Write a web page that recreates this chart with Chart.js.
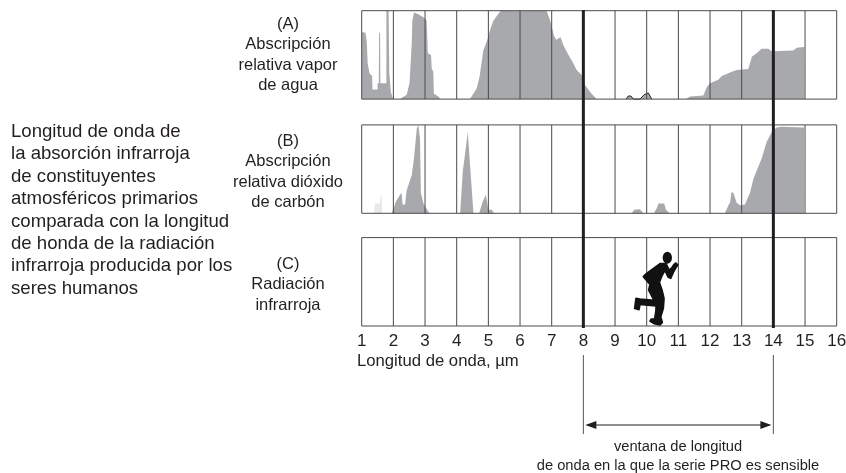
<!DOCTYPE html>
<html lang="es">
<head>
<meta charset="UTF-8">
<title>Longitud de onda</title>
<script src="https://cdn.jsdelivr.net/npm/chart.js"></script>
<style>
    html, body { margin: 0; padding: 0; background: #fff; }
    #wrap { position: relative; width: 846px; height: 473px; overflow: hidden; font-family: "Liberation Sans", Arial, sans-serif; color: #231f20; }
    canvas { position: absolute; left: 0; top: 0; }
    .txt { position: absolute; white-space: pre; }
    .panel { width: 160px; text-align: center; font-size: 16.5px; line-height: 20.4px; left: 208px; }
    #intro { left: 11px; top: 120px; font-size: 18.6px; line-height: 22.4px; }
    #xtitle { left: 357px; top: 351px; font-size: 16.7px; line-height: 19px; }
    #note { left: 528px; width: 300px; top: 437px; text-align: center; font-size: 14.7px; line-height: 19px; }
    #runner { position: absolute; left: 630px; top: 245px; }
</style>
</head>
<body>
<div id="wrap">
    <canvas id="chart" width="846" height="473"></canvas>
    <div class="txt panel" style="top:13px">(A)
Abscripción
relativa vapor
de agua</div>
    <div class="txt panel" style="top:130px">(B)
Abscripción
relativa dióxido
de carbón</div>
    <div class="txt panel" style="top:253px">(C)
Radiación
infrarroja</div>
    <div class="txt" id="intro">Longitud de onda de
la absorción infrarroja
de constituyentes
atmosféricos primarios
comparada con la longitud
de honda de la radiación
infrarroja producida por los
seres humanos</div>
    <div class="txt" id="xtitle">Longitud de onda, µm</div>
    <div class="txt" id="note">ventana de longitud
de onda en la que la serie PRO es sensible</div>
    <svg id="runner" width="55" height="85" viewBox="0 0 165 255">
        <ellipse cx="112" cy="38" rx="14" ry="18" fill="#111"/>
        <path fill="#111" stroke="#111" stroke-width="5" stroke-linejoin="round" d="M108 56 L118 76 L127 66 L132 58 L138 54 L143 60 L138 68 L130 82 L122 100 L114 96 L105 76 L96 92 L88 112 L96 135 L102 160 L100 190 L92 216 L97 232 L90 240 L72 236 L60 228 L64 222 L74 222 L78 195 L78 183 L30 178 L27 194 L14 190 L18 160 L30 162 L72 166 L56 135 L60 118 L40 95 L50 85 L90 56 Z"/>
    </svg>
</div>
<script>
    // wavelength ticks
    const ticks = [1, 2, 3, 4, 5, 6, 7, 8, 9, 10, 11, 12, 13, 14, 15, 16];
    const windowEdges = [8, 14];

    // (A) water vapour
    const vaporWave = [1, 1.12, 1.16, 1.19, 1.25, 1.33, 1.34, 1.49, 1.5, 1.54, 1.55, 1.58, 1.59, 1.77, 1.78, 1.85, 1.87, 1.92, 1.99,
        2.21, 2.42, 2.51, 2.58, 2.6, 2.65, 2.79, 2.97, 3.05, 3.09, 3.19, 3.21, 3.26, 3.28, 3.42, 3.49,
        4.42, 4.63, 4.72, 4.84, 4.97, 5.05, 5.16, 5.37, 5.42, 6.84, 6.95, 7.07, 7.14, 7.28, 7.37, 7.53, 7.63, 7.79, 7.95, 8.05, 8.26, 8.42,
        11.24, 11.37, 11.79, 11.89, 12, 12.26, 12.37, 12.63, 12.84, 13.21, 13.32, 13.47, 13.63, 13.84, 13.95, 14.63, 14.74, 14.98, 14.99];
    const vaporAbs = [76, 75, 65, 40, 29, 26, 11, 11, 18, 18, 75, 75, 18, 18, 100, 100, 30, 8, 0,
        0, 5, 18, 63, 89, 98, 96, 92, 89, 52, 50, 35, 31, 6, 3, 0,
        0, 12, 25, 55, 67, 78, 89, 99, 100, 100, 89, 72, 67, 70, 61, 50, 44, 33, 27, 16, 6, 0,
        0, 3, 4, 13, 18, 22, 26, 30, 33, 34, 48, 52, 57, 57, 54, 55, 58, 59, 0];
    // the two small outlined bumps
    const bumpWave = [9.35, 9.42, 9.5, 9.58, 9.79, 9.92, 10.05, 10.16];
    const bumpAbs = [0, 3.5, 3.5, 0, 0, 5, 7, 0];

    // (B) carbon dioxide
    const co2Wave = [1.95, 2.08, 2.21, 2.26, 2.29, 2.37, 2.42, 2.58, 2.65, 2.74, 2.79, 2.84, 2.87, 2.95, 3.03, 3.14,
        4.11, 4.19, 4.26, 4.35, 4.42, 4.53, 4.71, 4.82, 4.92, 5, 5.11, 5.18,
        9.53, 9.6, 9.79, 9.89, 10.23, 10.32, 10.37, 10.55, 10.61, 10.72,
        12.47, 12.58, 12.63, 12.68, 12.74, 12.84, 12.95, 13.1, 13.26, 13.37, 13.63, 13.79, 13.95, 14.1, 14.26, 14.97, 14.98];
    const co2Abs = [0, 13, 21, 23, 10, 10, 26, 43, 62, 96, 100, 85, 23, 11, 6, 0,
        0, 47, 66, 92, 55, 0, 0, 13, 21, 4, 4, 0,
        0, 4, 4.5, 0, 0, 6, 11, 11, 4, 0,
        0, 9, 12, 24, 23, 12, 9, 10, 23, 39, 62, 81, 92, 97, 98, 97, 0];
    // faint patch near 1.5 um
    const faintWave = [1.39, 1.42, 1.56, 1.6, 1.64, 1.65];
    const faintAbs = [2, 11, 11, 19, 19, 0];

    const pts = (xs, ys) => xs.map((x, i) => ({ x: x, y: ys[i] }));

    // all panels share one chart area; each y scale puts 0..100 in its own band
    const top0 = 10.7, bottom0 = 326, bandH = 88.4;
    const bands = { yA: 99.1, yB: 213.3, yC: 326 };
    const yScale = bottom => {
        const unit = 100 / bandH;
        return { display: false, min: -(bottom0 - bottom) * unit, max: 100 + (bottom - bandH - top0) * unit };
    };
    const area = (data, yAxisID, color, line) => ({
        data: data, yAxisID: yAxisID, backgroundColor: color, borderWidth: line || 0, borderColor: '#231f20',
        pointRadius: 0, fill: { value: 0 }, tension: 0, clip: false
    });

    const panelLines = {
        id: 'panelLines',
        afterDatasetsDraw(chart) {
            const c = chart.ctx, x = chart.scales.x;
            c.save();
            // frames and unit lines
            c.strokeStyle = '#4a4a4a';
            c.lineWidth = 1;
            Object.values(bands).forEach(b => {
                c.beginPath();
                ticks.forEach(t => {
                    const px = x.getPixelForValue(t);
                    c.moveTo(px, b - bandH);
                    c.lineTo(px, b);
                });
                c.moveTo(x.left, b - bandH); c.lineTo(x.right, b - bandH);
                c.moveTo(x.left, b); c.lineTo(x.right, b);
                c.stroke();
            });
            // window edges
            windowEdges.forEach(e => {
                const px = x.getPixelForValue(e);
                c.strokeStyle = '#231f20';
                c.lineWidth = 3;
                c.beginPath(); c.moveTo(px, 10); c.lineTo(px, 328); c.stroke();
                c.strokeStyle = '#555';
                c.lineWidth = 1;
                c.beginPath(); c.moveTo(px, 355); c.lineTo(px, 434); c.stroke();
            });
            // double arrow
            const a = x.getPixelForValue(windowEdges[0]), b = x.getPixelForValue(windowEdges[1]), y = 425;
            c.strokeStyle = '#231f20';
            c.fillStyle = '#231f20';
            c.beginPath(); c.moveTo(a + 4, y); c.lineTo(b - 4, y); c.stroke();
            c.beginPath();
            c.moveTo(a + 2, y); c.lineTo(a + 13, y - 4); c.lineTo(a + 13, y + 4); c.closePath();
            c.moveTo(b - 2, y); c.lineTo(b - 13, y - 4); c.lineTo(b - 13, y + 4); c.closePath();
            c.fill();
            c.restore();
        }
    };

    new Chart(document.getElementById('chart').getContext('2d'), {
        type: 'line',
        data: {
            datasets: [
                area(pts(vaporWave, vaporAbs), 'yA', '#a7a9ac'),
                area(pts(bumpWave, bumpAbs), 'yA', '#a7a9ac', 1),
                area(pts(faintWave, faintAbs), 'yB', '#e9e9ea'),
                area(pts(co2Wave, co2Abs), 'yB', '#a7a9ac'),
                area([], 'yC', '#a7a9ac')
            ]
        },
        options: {
            responsive: false,
            animation: false,
            layout: { padding: { left: 361.7, right: 9.3, top: top0, bottom: 117 } },
            plugins: { legend: { display: false }, tooltip: { enabled: false } },
            scales: {
                x: {
                    type: 'linear', min: 1, max: 16,
                    afterFit: s => { s.height = 30; s.paddingLeft = 0; s.paddingRight = 0; },
                    grid: { display: false, drawTicks: false }, border: { display: false },
                    ticks: {
                        stepSize: 1, autoSkip: false, maxRotation: 0, padding: 5,
                        color: '#231f20',
                        font: { family: '"Liberation Sans", Arial, sans-serif', size: 17 }
                    }
                },
                yA: yScale(bands.yA),
                yB: yScale(bands.yB),
                yC: yScale(bands.yC)
            }
        },
        plugins: [panelLines]
    });
</script>
</body>
</html>
